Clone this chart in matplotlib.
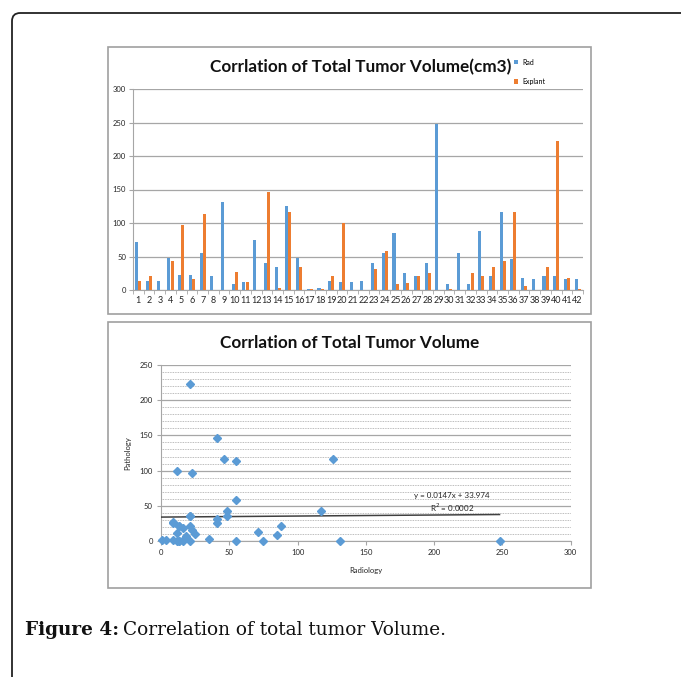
import matplotlib.pyplot as plt
from matplotlib.patches import Rectangle, FancyBboxPatch
import numpy as np

# values
cases = list(range(1, 43))
rad = [71, 13, 13, 48, 23, 23, 55, 21, 131, 8.5, 12, 75, 41, 35, 126, 48, 1, 3.5, 13, 12,
       12, 13, 41, 55, 85, 25, 21, 41, 248, 8.5, 55, 8.5, 88, 21, 117, 46, 18, 16, 21, 21,
       16, 16]
explant = [13, 21, 0, 43, 97, 16, 113, 0, 0, 27, 12, 0, 147, 3.5, 116, 35, 2, 1.5, 21, 100,
           0, 0, 31, 58, 8.5, 10, 21, 26, 0, 1.5, 0, 26, 21, 35, 43, 117, 6.5, 0, 35, 223,
           18, 1.5]
trend_slope = 0.0147
trend_icept = 33.974
trend_r2 = 0.0002

BLUE = "#5B9BD5"
ORANGE = "#ED7D31"
GRID = "#A6A6A6"
TXT = "#262626"

W, H = 681, 677
plt.rcParams["font.family"] = ["Lato", "DejaVu Sans"]


def rect(x0, y0, x1, y1):
    # pixel box (top-left origin) -> figure fraction
    return [x0 / W, 1 - y1 / H, (x1 - x0) / W, (y1 - y0) / H]


fig = plt.figure(figsize=(W / 100, H / 100), dpi=100)

# outer rounded box of the page
fig.patches.append(FancyBboxPatch((12 / W, -0.05), 1.2, 1 - 13 / H + 0.05,
                                  boxstyle="round,pad=0,rounding_size=0.012",
                                  transform=fig.transFigure, fill=False,
                                  edgecolor="#222222", linewidth=1.3))
# chart frames
for box in [(108, 47, 591, 314), (108, 322, 591, 588)]:
    r = rect(*box)
    fig.patches.append(Rectangle((r[0], r[1]), r[2], r[3], transform=fig.transFigure,
                                 fill=False, edgecolor="#A0A0A0", linewidth=1.2))

# ---- bar chart ----
ax1 = fig.add_axes(rect(133, 89, 583, 290))
x = np.array(cases)
bw = 0.285
ax1.bar(x - bw / 2, rad, bw, color=BLUE, label="Rad", zorder=3)
ax1.bar(x + bw / 2, explant, bw, color=ORANGE, label="Explant", zorder=3)
ax1.set_xlim(0.5, 42.5)
ax1.set_ylim(0, 300)
ax1.set_yticks(range(0, 301, 50))
ax1.set_xticks(cases)
ax1.set_xticklabels([str(c) for c in cases], fontsize=6.5, color=TXT)
ax1.set_xticks(np.arange(0.5, 43), minor=True)
ax1.tick_params(axis="x", which="major", length=0, pad=4)
ax1.tick_params(axis="x", which="minor", length=3, color=GRID)
ax1.tick_params(axis="y", labelsize=5.5, labelcolor=TXT, length=3, color=GRID, pad=2)
ax1.yaxis.grid(True, color=GRID, linewidth=0.9, zorder=0)
for s in ["top", "right"]:
    ax1.spines[s].set_visible(False)
for s in ["left", "bottom"]:
    ax1.spines[s].set_color(GRID)
ax1.set_title("Corrlation of Total Tumor Volume(cm3)", fontsize=12.3, fontweight="bold",
              color="#111111", pad=12, x=0.505)
ax1.legend(loc="upper left", bbox_to_anchor=(0.84, 1.165), frameon=False, fontsize=5,
           handlelength=0.6, handleheight=0.6, handletextpad=0.6, labelspacing=1.8,
           borderaxespad=0)

# ---- scatter chart ----
ax2 = fig.add_axes(rect(161, 365, 570.5, 541))
ax2.plot(rad, explant, linestyle="none", marker="D", markersize=4, color=BLUE,
         clip_on=False, zorder=4)
xt = np.array([0, max(rad)])
ax2.plot(xt, trend_slope * xt + trend_icept, color="#404040", linewidth=1.1, zorder=3)
ax2.text(213, 64, f"y = {trend_slope}x + {trend_icept}", fontsize=5.8, ha="center",
         va="center", color=TXT)
ax2.text(213, 47, f"R$^2$ = {trend_r2:.4f}", fontsize=5.8, ha="center", va="center",
         color=TXT)
ax2.set_xlim(0, 300)
ax2.set_ylim(0, 250)
ax2.set_xticks(range(0, 301, 50))
ax2.set_yticks(range(0, 251, 50))
ax2.set_yticks(range(0, 251, 10), minor=True)
ax2.yaxis.grid(True, which="major", color=GRID, linewidth=0.9, zorder=0)
ax2.yaxis.grid(True, which="minor", color=GRID, linewidth=0.6, linestyle=(0, (1, 1)),
               zorder=0)
ax2.tick_params(axis="both", which="major", labelsize=5.5, labelcolor=TXT, length=3,
                color=GRID, pad=3)
ax2.tick_params(axis="y", which="minor", length=0)
for s in ["top", "right"]:
    ax2.spines[s].set_visible(False)
for s in ["left", "bottom"]:
    ax2.spines[s].set_color(GRID)
ax2.set_xlabel("Radiology", fontsize=5.5, color=TXT, labelpad=8)
ax2.set_ylabel("Pathology", fontsize=5.5, color=TXT, labelpad=6)
ax2.set_title("Corrlation of Total Tumor Volume", fontsize=12.3, fontweight="bold",
              color="#111111", pad=12, x=0.46)

# ---- caption ----
cap_font = "DejaVu Serif"
cap1 = fig.text(25 / W, 1 - 630 / H, "Figure 4:", fontsize=13.3, fontweight="bold",
                family=cap_font, va="center", color="#111111")
fig.canvas.draw()
bb = cap1.get_window_extent()
fig.text(bb.x1 / W + 4 / W, 1 - 630 / H, "Correlation of total tumor Volume.", fontsize=13.3,
         family=cap_font, va="center", color="#111111")

fig.savefig("out.png", dpi=100)
